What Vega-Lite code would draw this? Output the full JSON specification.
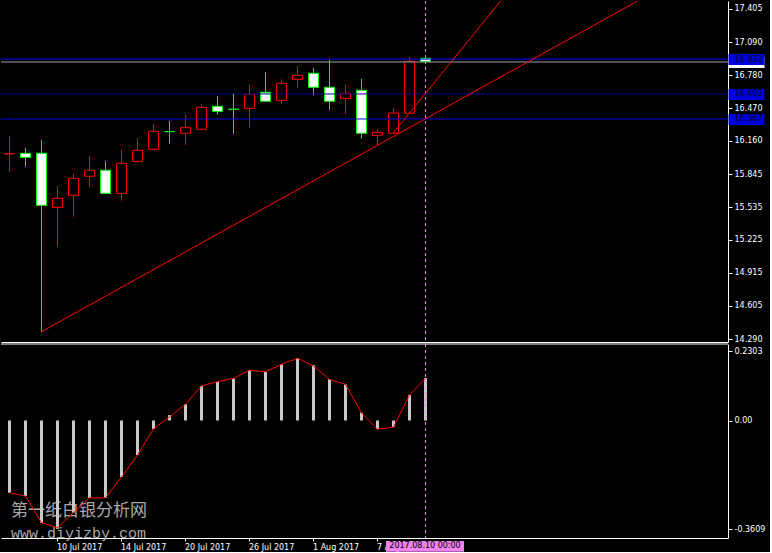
{
  "$schema": "https://vega.github.io/schema/vega-lite/v6.json",
  "background": "black",
  "padding": 0,
  "autosize": {"type": "pad"},
  "bounds": "flush",
  "spacing": 2,
  "config": {
    "view": {"stroke": null},
    "axis": {"labelFont": "DejaVu Sans", "labelFontSize": 8, "labelColor": "white", "domainColor": "white", "tickColor": "white", "grid": false, "labelOverlap": false, "labelBound": false, "labelFlush": false}
  },
  "datasets": {
    "bars": [
      {"date":"5 Jul 2017","open":16.038,"high":16.206,"low":15.869,"close":16.039,"macd":-0.240,"signal":-0.240},
      {"date":"6 Jul 2017","open":16.043,"high":16.093,"low":15.917,"close":16.005,"macd":-0.251,"signal":-0.251},
      {"date":"7 Jul 2017","open":16.043,"high":16.169,"low":14.356,"close":15.552,"macd":-0.340,"signal":-0.340},
      {"date":"10 Jul 2017","open":15.533,"high":15.734,"low":15.161,"close":15.618,"macd":-0.360,"signal":-0.356},
      {"date":"11 Jul 2017","open":15.647,"high":15.848,"low":15.445,"close":15.807,"macd":-0.306,"signal":-0.306},
      {"date":"12 Jul 2017","open":15.826,"high":16.018,"low":15.728,"close":15.883,"macd":-0.257,"signal":-0.257},
      {"date":"13 Jul 2017","open":15.883,"high":15.970,"low":15.665,"close":15.665,"macd":-0.257,"signal":-0.257},
      {"date":"14 Jul 2017","open":15.665,"high":16.074,"low":15.596,"close":15.949,"macd":-0.188,"signal":-0.188},
      {"date":"17 Jul 2017","open":15.967,"high":16.187,"low":15.954,"close":16.071,"macd":-0.115,"signal":-0.115},
      {"date":"18 Jul 2017","open":16.081,"high":16.320,"low":16.081,"close":16.251,"macd":-0.028,"signal":-0.028},
      {"date":"19 Jul 2017","open":16.248,"high":16.348,"low":16.134,"close":16.247,"macd":0.018,"signal":0.012},
      {"date":"20 Jul 2017","open":16.232,"high":16.405,"low":16.124,"close":16.288,"macd":0.054,"signal":0.054},
      {"date":"21 Jul 2017","open":16.270,"high":16.508,"low":16.270,"close":16.477,"macd":0.115,"signal":0.115},
      {"date":"24 Jul 2017","open":16.487,"high":16.584,"low":16.407,"close":16.439,"macd":0.129,"signal":0.129},
      {"date":"25 Jul 2017","open":16.459,"high":16.612,"low":16.228,"close":16.458,"macd":0.140,"signal":0.140},
      {"date":"26 Jul 2017","open":16.468,"high":16.688,"low":16.285,"close":16.600,"macd":0.167,"signal":0.167},
      {"date":"27 Jul 2017","open":16.619,"high":16.810,"low":16.534,"close":16.534,"macd":0.162,"signal":0.162},
      {"date":"28 Jul 2017","open":16.543,"high":16.741,"low":16.506,"close":16.704,"macd":0.187,"signal":0.187},
      {"date":"31 Jul 2017","open":16.741,"high":16.867,"low":16.662,"close":16.779,"macd":0.207,"signal":0.207},
      {"date":"1 Aug 2017","open":16.798,"high":16.848,"low":16.590,"close":16.666,"macd":0.184,"signal":0.181},
      {"date":"2 Aug 2017","open":16.666,"high":16.924,"low":16.455,"close":16.534,"macd":0.137,"signal":0.136},
      {"date":"3 Aug 2017","open":16.562,"high":16.688,"low":16.417,"close":16.609,"macd":0.120,"signal":0.120},
      {"date":"4 Aug 2017","open":16.638,"high":16.744,"low":16.181,"close":16.232,"macd":0.026,"signal":0.025},
      {"date":"7 Aug 2017","open":16.213,"high":16.270,"low":16.112,"close":16.241,"macd":-0.029,"signal":-0.029},
      {"date":"8 Aug 2017","open":16.232,"high":16.471,"low":16.232,"close":16.423,"macd":-0.022,"signal":-0.022},
      {"date":"9 Aug 2017","open":16.421,"high":16.952,"low":16.421,"close":16.911,"macd":0.085,"signal":0.085},
      {"date":"10 Aug 2017","open":16.940,"high":16.949,"low":16.908,"close":16.908,"macd":0.141,"signal":0.139}
    ],
    "trend": [
      {"line":"A","date":"7 Jul 2017","price":14.356},
      {"line":"A","date":"30 Aug 2017","price":17.540},
      {"line":"B","date":"8 Aug 2017","price":16.232},
      {"line":"B","date":"18 Aug 2017","price":17.716}
    ],
    "levels": [
      {"level":16.905},
      {"level":16.932},
      {"level":16.603},
      {"level":16.367}
    ]
  },
  "vconcat": [
    {
      "width": 727,
      "height": 341,
      "resolve": {"axis": {"y": "independent"}},
      "layer": [
        {
          "data": {"values": [{}]},
          "mark": {"type": "rule", "strokeDash": [3, 3], "color": "#ee82ee", "xOffset": 0.5},
          "encoding": {
            "x": {"datum": "10 Aug 2017", "type": "ordinal", "title": null,
              "scale": {"type": "band", "domain": ["5 Jul 2017","6 Jul 2017","7 Jul 2017","10 Jul 2017","11 Jul 2017","12 Jul 2017","13 Jul 2017","14 Jul 2017","17 Jul 2017","18 Jul 2017","19 Jul 2017","20 Jul 2017","21 Jul 2017","24 Jul 2017","25 Jul 2017","26 Jul 2017","27 Jul 2017","28 Jul 2017","31 Jul 2017","1 Aug 2017","2 Aug 2017","3 Aug 2017","4 Aug 2017","7 Aug 2017","8 Aug 2017","9 Aug 2017","10 Aug 2017","11 Aug 2017","14 Aug 2017","15 Aug 2017","16 Aug 2017","17 Aug 2017","18 Aug 2017","21 Aug 2017","22 Aug 2017","23 Aug 2017","24 Aug 2017","25 Aug 2017","28 Aug 2017","29 Aug 2017","30 Aug 2017","31 Aug 2017","1 Sep 2017","4 Sep 2017","5 Sep 2017"], "paddingInner": 0, "paddingOuter": 0.21875, "align": 0},
              "axis": {"labels": false, "ticks": false, "domain": true, "domainColor": "white"}}
          }
        },
        {
          "data": {"name": "bars"},
          "mark": {"type": "rule", "strokeWidth": 1, "xOffset": 0.5},
          "encoding": {
            "x": {"field": "date", "type": "ordinal", "title": null},
            "y": {"field": "low", "type": "quantitative", "title": null,
              "scale": {"domain": [14.2618, 17.4805], "nice": false, "zero": false},
              "axis": {
                "orient": "right",
                "values": [17.405, 17.09, 16.78, 16.47, 16.16, 15.845, 15.535, 15.225, 14.915, 14.605, 14.29],
                "labelExpr": "format(datum.value, '.3f')",
                "labelPadding": 2,
                "tickSize": 4,
                "labelOverlap": false,
                "domainColor": "white"
              }},
            "y2": {"field": "high"},
            "color": {"condition": {"test": "datum.close > datum.open", "value": "#ff0000"}, "value": "#00ff00"}
          }
        },
        {
          "data": {"name": "bars"},
          "mark": {"type": "bar", "width": 10, "strokeWidth": 1, "xOffset": 0.5},
          "encoding": {
            "x": {"field": "date", "type": "ordinal", "title": null},
            "y": {"field": "open", "type": "quantitative", "title": null, "axis": null},
            "y2": {"field": "close"},
            "fill": {"condition": {"test": "datum.close > datum.open", "value": "#000000"}, "value": "#ffffff"},
            "stroke": {"condition": {"test": "datum.close > datum.open", "value": "#ff0000"}, "value": "#00ff00"}
          }
        },
        {
          "data": {"name": "levels"},
          "mark": {"type": "rule", "strokeWidth": 1},
          "encoding": {
            "y": {"field": "level", "type": "quantitative", "title": null,
              "axis": {
                "orient": "right",
                "values": [16.905, 16.932, 16.603, 16.367],
                "labelExpr": "format(datum.value, '.3f')",
                "domain": false,
                "tickSize": 36,
                "tickWidth": 11,
                "tickColor": {"condition": {"test": "datum.value == 16.905", "value": "#ffffff"}, "value": "#0000dd"},
                "labelColor": "#000020",
                "labelOpacity": {"condition": {"test": "datum.value == 16.905", "value": 0}, "value": 1},
                "labelPadding": -30,
                "labelOverlap": false
              }},
            "color": {"field": "level", "type": "nominal", "legend": null,
              "scale": {"domain": [16.905, 16.932, 16.603, 16.367], "range": ["#a0a0a0", "#0000ff", "#000099", "#0000e6"]}}
          }
        },
        {
          "data": {"name": "trend"},
          "mark": {"type": "line", "color": "#ff0000", "strokeWidth": 1, "clip": true},
          "encoding": {
            "x": {"field": "date", "type": "ordinal", "title": null, "sort": null},
            "y": {"field": "price", "type": "quantitative", "title": null, "axis": null},
            "detail": {"field": "line"}
          }
        }
      ]
    },
    {
      "width": 727,
      "height": 194,
      "layer": [
        {
          "data": {"values": [{}]},
          "mark": {"type": "text", "font": "Noto Sans CJK SC", "fontSize": 17, "color": "#a8a8a8", "align": "left", "baseline": "middle", "dx": 2, "text": "第一纸白银分析网"},
          "encoding": {
            "x": {"datum": "5 Jul 2017", "type": "ordinal", "title": null,
              "scale": {"type": "band", "domain": ["5 Jul 2017","6 Jul 2017","7 Jul 2017","10 Jul 2017","11 Jul 2017","12 Jul 2017","13 Jul 2017","14 Jul 2017","17 Jul 2017","18 Jul 2017","19 Jul 2017","20 Jul 2017","21 Jul 2017","24 Jul 2017","25 Jul 2017","26 Jul 2017","27 Jul 2017","28 Jul 2017","31 Jul 2017","1 Aug 2017","2 Aug 2017","3 Aug 2017","4 Aug 2017","7 Aug 2017","8 Aug 2017","9 Aug 2017","10 Aug 2017","11 Aug 2017","14 Aug 2017","15 Aug 2017","16 Aug 2017","17 Aug 2017","18 Aug 2017","21 Aug 2017","22 Aug 2017","23 Aug 2017","24 Aug 2017","25 Aug 2017","28 Aug 2017","29 Aug 2017","30 Aug 2017","31 Aug 2017","1 Sep 2017","4 Sep 2017","5 Sep 2017"], "paddingInner": 0, "paddingOuter": 0.21875, "align": 0},
              "axis": {
                "values": ["10 Jul 2017", "14 Jul 2017", "20 Jul 2017", "26 Jul 2017", "1 Aug 2017", "7 Aug 2017"],
                "labelAngle": 0,
                "labelAlign": "left",
                "labelBaseline": "top",
                "labelPadding": 2,
                "tickSize": 3,
                "domainColor": "white",
                "tickColor": "white"
              }},
            "y": {"datum": -0.3007, "type": "quantitative", "title": null,
              "scale": {"domain": [-0.3904, 0.2542], "nice": false, "zero": false},
              "axis": {
                "orient": "right",
                "values": [0.2303, 0, -0.3609],
                "labelExpr": "datum.value == 0 ? '0.00' : (datum.value < 0 ? '-' : '') + format(abs(datum.value), '.4f')",
                "labelPadding": 2,
                "tickSize": 4,
                "labelOverlap": false,
                "domainColor": "white"
              }}
          }
        },
        {
          "data": {"values": [{}]},
          "mark": {"type": "text", "font": "Liberation Mono", "fontSize": 15, "color": "#a8a8a8", "align": "left", "baseline": "middle", "dx": 2, "text": "www.diyizby.com"},
          "encoding": {
            "x": {"datum": "5 Jul 2017", "type": "ordinal"},
            "y": {"datum": -0.3738, "type": "quantitative"}
          }
        },
        {
          "data": {"name": "bars"},
          "mark": {"type": "bar", "width": 3, "color": "#c8c8c8", "xOffset": 0.5},
          "encoding": {
            "x": {"field": "date", "type": "ordinal", "title": null},
            "y": {"field": "macd", "type": "quantitative", "title": null},
            "y2": {"datum": 0}
          }
        },
        {
          "data": {"name": "bars"},
          "mark": {"type": "line", "color": "#ff0000", "strokeWidth": 1, "xOffset": 0.5},
          "encoding": {
            "x": {"field": "date", "type": "ordinal", "title": null, "sort": null},
            "y": {"field": "signal", "type": "quantitative", "title": null}
          }
        },
        {
          "data": {"values": [{}]},
          "mark": {"type": "rule", "color": "white", "strokeWidth": 1},
          "encoding": {
            "y": {"datum": 0.2542, "type": "quantitative"}
          }
        },
        {
          "data": {"values": [{}]},
          "mark": {"type": "rule", "strokeDash": [3, 3], "color": "#ee82ee", "xOffset": 0.5},
          "encoding": {
            "x": {"datum": "10 Aug 2017", "type": "ordinal"}
          }
        },
        {
          "data": {"values": [{}]},
          "mark": {"type": "bar", "width": 78, "color": "#ee82ee", "clip": false},
          "encoding": {
            "x": {"datum": "10 Aug 2017", "type": "ordinal"},
            "y": {"datum": -0.4003, "type": "quantitative"},
            "y2": {"datum": -0.4359}
          }
        },
        {
          "data": {"values": [{}]},
          "mark": {"type": "text", "font": "DejaVu Sans", "fontSize": 8, "color": "black", "align": "center", "baseline": "middle", "text": "2017.08.10 00:00"},
          "encoding": {
            "x": {"datum": "10 Aug 2017", "type": "ordinal"},
            "y": {"datum": -0.4186, "type": "quantitative"}
          }
        }
      ]
    }
  ]
}
